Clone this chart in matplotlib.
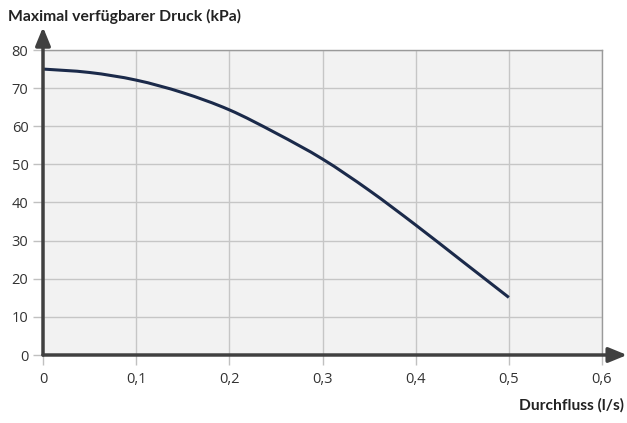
import matplotlib
matplotlib.use("Agg")
import matplotlib.pyplot as plt
from matplotlib.path import Path
from matplotlib.patches import PathPatch
import numpy as np

# Pump curve: maximal available pressure vs. flow
flow = [0.0, 0.05, 0.1, 0.15, 0.2, 0.25, 0.3, 0.35, 0.4, 0.45, 0.5]
pressure = [75.0, 74.1, 72.1, 68.8, 64.3, 58.2, 51.4, 43.2, 34.1, 24.6, 15.1]

x_ticks = [0, 0.1, 0.2, 0.3, 0.4, 0.5, 0.6]
x_tick_labels = ["0", "0,1", "0,2", "0,3", "0,4", "0,5", "0,6"]
y_ticks = [0, 10, 20, 30, 40, 50, 60, 70, 80]

y_title = "Maximal verfügbarer Druck (kPa)"
x_title = "Durchfluss (l/s)"

plt.rcParams['font.family'] = ['Open Sans', 'DejaVu Sans']


def smooth_path(xs, ys):
    """Catmull-Rom curve through the points, expressed as cubic Bezier segments."""
    pts = np.column_stack([xs, ys]).astype(float)
    n = len(pts)
    verts = [pts[0]]
    codes = [Path.MOVETO]
    for i in range(n - 1):
        p0 = pts[i - 1] if i > 0 else pts[i]
        p1 = pts[i]
        p2 = pts[i + 1]
        p3 = pts[i + 2] if i + 2 < n else pts[i + 1]
        c1 = p1 + (p2 - p0) / 6.0
        c2 = p2 - (p3 - p1) / 6.0
        verts += [c1, c2, p2]
        codes += [Path.CURVE4] * 3
    return Path(verts, codes)


W, H = 627, 423
fig = plt.figure(figsize=(W / 100, H / 100), dpi=100)
left, right, top, bottom = 43, 602, 50, 355
ax = fig.add_axes([left / W, 1 - bottom / H, (right - left) / W, (bottom - top) / H])

ax.set_facecolor("#f2f2f2")
ax.set_xlim(0, 0.6)
ax.set_ylim(0, 80)
ax.set_xticks(x_ticks)
ax.set_xticklabels(x_tick_labels)
ax.set_yticks(y_ticks)
ax.grid(True, color="#c6c6c6", linewidth=1.0)
ax.set_axisbelow(True)

for side in ("top", "right"):
    ax.spines[side].set_color("#9a9a9a")
    ax.spines[side].set_linewidth(1.0)
for side in ("left", "bottom"):
    ax.spines[side].set_visible(False)

ax.tick_params(axis="both", length=7.5, width=1, color="#c0c0c0",
               labelsize=10.5, labelcolor="#333333", pad=3)
ax.tick_params(axis="x", pad=5)

curve = PathPatch(smooth_path(flow, pressure), facecolor="none",
                  edgecolor="#1b2a4a", linewidth=2.2, capstyle="butt", zorder=3)
ax.add_patch(curve)

# Axis arrows
ax_color = "#404040"
arrow_style = dict(arrowstyle="-|>,head_length=1.1,head_width=0.45",
                   color=ax_color, lw=2.5, shrinkA=0, shrinkB=0)
ax.annotate("", xy=(0, 86), xytext=(0, 0), xycoords="data",
            arrowprops=arrow_style, annotation_clip=False, zorder=5)
ax.annotate("", xy=(0.6 + 25 / 93 * 0.1, 0), xytext=(0, 0), xycoords="data",
            arrowprops=arrow_style, annotation_clip=False, zorder=5)

fig.text(8 / W, 1 - 16 / H, y_title, fontsize=11.3, fontweight="bold",
         family=['Lato', 'DejaVu Sans'], color="#222222", ha="left", va="center")
fig.text(624 / W, 1 - 405 / H, x_title, fontsize=11.2, fontweight="bold",
         family=['Lato', 'DejaVu Sans'], color="#222222", ha="right", va="center")

fig.savefig("out.png", dpi=100)
